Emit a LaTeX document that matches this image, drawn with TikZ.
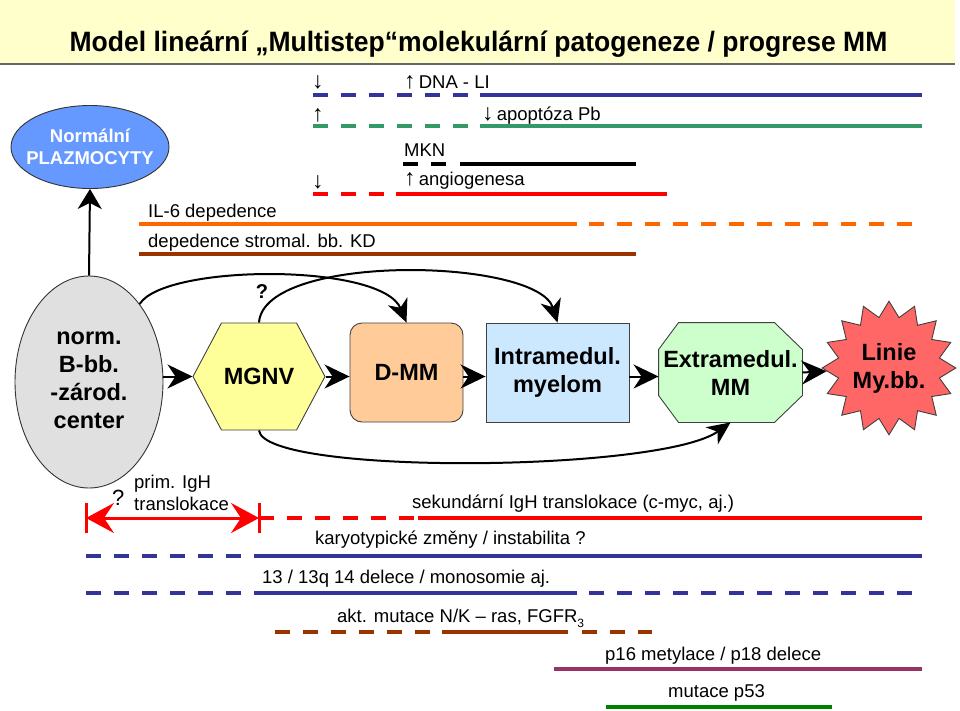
\documentclass[tikz,border=0pt]{standalone}
\usepackage{fontspec}
\setmainfont{Liberation Sans}
\usepackage{graphicx}
\usepackage{xcolor}
\usetikzlibrary{arrows.meta,shapes.geometric,shapes.symbols,backgrounds}

\definecolor{navyln}{HTML}{333399}
\definecolor{greenln}{HTML}{339966}
\definecolor{redln}{HTML}{FF0000}
\definecolor{orangeln}{HTML}{FF6600}
\definecolor{brownln}{HTML}{993300}
\definecolor{purpleln}{HTML}{993366}
\definecolor{darkgreenln}{HTML}{008000}
\definecolor{titlebg}{HTML}{FFFFCC}
\definecolor{plazmofill}{HTML}{6699FF}
\definecolor{gcfill}{HTML}{E0E0E0}
\definecolor{mgnvfill}{HTML}{FFFF99}
\definecolor{dmmfill}{HTML}{FFCC99}
\definecolor{intrafill}{HTML}{CCE8FF}
\definecolor{extrafill}{HTML}{CCFFCC}
\definecolor{starfill}{HTML}{FF6666}

\newcommand{\arw}[1]{{\fontsize{23}{23}\selectfont #1}}

\tikzset{
  lbl/.style={anchor=base west, inner sep=0pt, font=\fontsize{18.5}{22}\selectfont},
  stage/.style={draw=black!75, line width=0.9pt, inner sep=0pt, align=center,
    font=\bfseries\fontsize{23.5}{28}\selectfont},
  fwd/.style={line width=2pt, -{Stealth[length=25pt,width=24pt,inset=8pt]}},
  skiparrow/.style={line width=2pt, -{Stealth[length=23pt,width=21pt,inset=7pt]}},
  trk/.style={line width=4pt},
  dsh/.style={line width=4pt, dash pattern=on 15pt off 13pt},
}

\begin{document}
\begin{tikzpicture}[x=1pt,y=-1pt]
    \useasboundingbox (0,0) rectangle (960,710);
    % title band
    \fill[titlebg] (0,0) rectangle (955,64);
    \draw[black!60, line width=1.5pt] (0,64) -- (955,64);
    \node[anchor=base, inner sep=0pt, font=\bfseries\fontsize{28}{32}\selectfont] (title) at (478.5,51.5)
        {\scalebox{0.947}[1]{Model lineární „Multistep“molekulární patogeneze / progrese MM}};

    % stages
    \node[ellipse, draw=black!80, line width=0.9pt, fill=plazmofill, minimum width=158pt, minimum height=83pt] (plazmo) at (90,147) {};
    \node[text=white, align=center, font=\bfseries\fontsize{18.5}{22}\selectfont] (plazmotxt) at (plazmo) {Normální\\PLAZMOCYTY};
    \node[ellipse, draw=black!80, line width=0.9pt, fill=gcfill, minimum width=148pt, minimum height=212pt] (gc) at (89,382) {};
    \node[stage, draw=none] (gctxt) at (89,380) {norm.\\B-bb.\\-zárod.\\center};
    \node[stage, signal, signal to=west and east, signal pointer angle=124, fill=mgnvfill,
        minimum width=132pt, minimum height=107pt] (mgnv) at (259,376.5) {MGNV};
    \node[stage, rectangle, rounded corners=12pt, fill=dmmfill, minimum width=113pt, minimum height=99pt] (dmm) at (406.5,372.5) {D-MM};
    \node[stage, rectangle, fill=intrafill, minimum width=143pt, minimum height=99pt] (intra) at (557.5,372.5) {Intramedul.\\myelom};
    \node[stage, rectangle, draw=none, minimum width=143pt, minimum height=99pt] (extra) at (730.5,372.5) {Extramedul.\\MM};
    \begin{scope}[on background layer]
        \filldraw[draw=black!75, line width=0.9pt, fill=extrafill]
            ([xshift=20pt]extra.north west) -- ([xshift=-28pt]extra.north east) -- ([yshift=-27pt]extra.north east)
            -- ([yshift=27pt]extra.south east) -- ([xshift=-28pt]extra.south east) -- ([xshift=20pt]extra.south west)
            -- ([yshift=27pt]extra.south west) -- ([yshift=-27pt]extra.north west) -- cycle;
    \end{scope}
    \node[stage, star, star points=16, star point ratio=1.3, fill=starfill, minimum size=126pt] (star) at (889,368) {Linie\\My.bb.};

    \draw[line width=2pt, -{Stealth[length=20pt,width=24pt,inset=6pt]}] (gc.north) -- (plazmo.south);
    \draw[fwd] (gc.east |- mgnv) -- (mgnv.west);
    \draw[fwd] (mgnv.east) -- (dmm.west |- mgnv);
    \draw[fwd] (dmm.east |- mgnv) -- (intra.west |- mgnv);
    \draw[fwd] (intra.east |- mgnv) -- (extra.west |- mgnv);
    \draw[fwd] (extra.east) -- (star);
    \draw[skiparrow] (gc.57) .. controls +(25,-40) and +(-25,-60) .. (dmm.north);
    \draw[skiparrow] (mgnv.north) .. controls +(5,-70) and +(-20,-65) .. (intra.north);
    \draw[skiparrow] (mgnv.south) .. controls +(5,45) and +(-70,50) .. (extra.south);
    \node[anchor=base, inner sep=0pt, font=\bfseries\fontsize{20}{22}\selectfont] (qmark) at (262,298) {?};

    % upper tracks
    \node[lbl] (dnadown) at (312,88) {\arw{↓}};
    \node[lbl] (dnali) at (404,88) {\arw{↑}\,DNA - LI};
    \draw[dsh, navyln] (313,95) -- (468,95);
    \draw[trk, navyln] (480,95) -- (922,95);
    \node[lbl] (apoup) at (312,121) {\arw{↑}};
    \node[lbl] (apopt) at (482,120) {\arw{↓}\,apoptóza Pb};
    \draw[dsh, greenln] (313,126) -- (468,126);
    \draw[trk, greenln] (480,126) -- (922,126);
    \node[lbl] (mkn) at (404,156) {MKN};
    \draw[dsh, black] (403,164) -- (446,164);
    \draw[trk, black] (460,164) -- (636,164);
    \node[lbl] (angdown) at (312,188) {\arw{↓}};
    \node[lbl] (angio) at (404,185) {\arw{↑}\,angiogenesa};
    \draw[dsh, redln] (313,194) -- (384,194);
    \draw[trk, redln] (396,194) -- (667,194);
    \node[lbl] (il6) at (148,217) {IL-6 depedence};
    \draw[trk, orangeln] (139,224) -- (577,224);
    \draw[dsh, orangeln] (589,224) -- (912,224);
    \node[lbl] (stroma) at (148,247) {depedence stromal. bb. KD};
    \draw[trk, brownln] (139,254) -- (636,254);

    % lower tracks
    \node[anchor=base west, inner sep=0pt, font=\fontsize{22}{24}\selectfont] (qprim) at (112,505) {?};
    \node[lbl] (prim) at (134,488) {prim. IgH};
    \node[lbl] (transl) at (134,510) {translokace};
    \coordinate (pl) at (86,518);
    \coordinate (pr) at (259,518);
    \draw[redln, line width=3pt] ([yshift=15pt]pl) -- ([yshift=-15pt]pl) ([yshift=15pt]pr) -- ([yshift=-15pt]pr);
    \draw[redln, line width=3pt, {Stealth[length=28pt,width=30pt,inset=10pt]}-{Stealth[length=28pt,width=30pt,inset=10pt]}] (pl) -- (pr);
    \node[lbl] (sekund) at (412,508) {sekundární IgH translokace (c-myc, aj.)};
    \draw[dsh, redln] (pr) -- (414,518);
    \draw[trk, redln] (418,518) -- (922,518);
    \node[lbl] (karyo) at (315,544) {karyotypické změny / instabilita ?};
    \draw[dsh, navyln] (86,556) -- (241,556);
    \draw[trk, navyln] (254,556) -- (922,556);
    \node[lbl] (del13) at (262,583) {13 / 13q 14 delece / monosomie aj.};
    \draw[dsh, navyln] (86,593) -- (241,593);
    \draw[trk, navyln] (254,593) -- (577,593);
    \draw[dsh, navyln] (589,593) -- (912,593);
    \node[lbl] (ras) at (337,622) {akt. mutace N/K – ras, FGFR\raisebox{-5pt}{\fontsize{12}{12}\selectfont 3}};
    \draw[dsh, brownln] (275,632) -- (440,632);
    \draw[trk, brownln] (442,632) -- (568,632);
    \draw[dsh, brownln] (582,632) -- (652,632);
    \node[lbl] (p16) at (605,660) {p16 metylace / p18 delece};
    \draw[trk, purpleln] (554,669) -- (922,669);
    \node[lbl] (p53) at (668,697) {mutace p53};
    \draw[trk, darkgreenln] (606,707) -- (832,707);
\end{tikzpicture}
\end{document}
